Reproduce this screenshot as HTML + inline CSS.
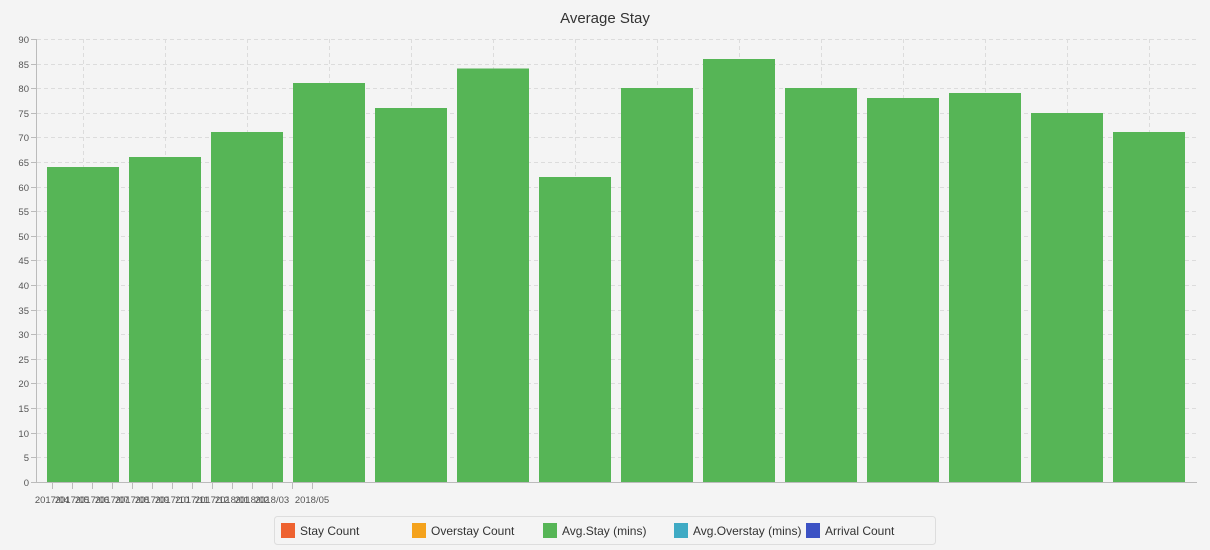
<!DOCTYPE html>
<html><head><meta charset="utf-8"><style>
html,body{margin:0;padding:0;background:#f4f4f4;}
svg{display:block;font-family:"Liberation Sans",sans-serif;}
</style></head><body>
<svg width="1210" height="550" xmlns="http://www.w3.org/2000/svg">
<rect width="1210" height="550" fill="#f4f4f4"/>
<text x="605" y="23" text-anchor="middle" font-size="15" fill="#333">Average Stay</text>
<g stroke="#dcdcdc" stroke-dasharray="4,3" stroke-width="1">
<line x1="37" x2="1197" y1="39.5" y2="39.5"/><line x1="37" x2="1197" y1="64.5" y2="64.5"/><line x1="37" x2="1197" y1="88.5" y2="88.5"/><line x1="37" x2="1197" y1="113.5" y2="113.5"/><line x1="37" x2="1197" y1="137.5" y2="137.5"/><line x1="37" x2="1197" y1="162.5" y2="162.5"/><line x1="37" x2="1197" y1="187.5" y2="187.5"/><line x1="37" x2="1197" y1="211.5" y2="211.5"/><line x1="37" x2="1197" y1="236.5" y2="236.5"/><line x1="37" x2="1197" y1="260.5" y2="260.5"/><line x1="37" x2="1197" y1="285.5" y2="285.5"/><line x1="37" x2="1197" y1="310.5" y2="310.5"/><line x1="37" x2="1197" y1="334.5" y2="334.5"/><line x1="37" x2="1197" y1="359.5" y2="359.5"/><line x1="37" x2="1197" y1="383.5" y2="383.5"/><line x1="37" x2="1197" y1="408.5" y2="408.5"/><line x1="37" x2="1197" y1="433.5" y2="433.5"/><line x1="37" x2="1197" y1="457.5" y2="457.5"/>
<line x1="83.5" x2="83.5" y1="39" y2="482"/><line x1="165.5" x2="165.5" y1="39" y2="482"/><line x1="247.5" x2="247.5" y1="39" y2="482"/><line x1="329.5" x2="329.5" y1="39" y2="482"/><line x1="411.5" x2="411.5" y1="39" y2="482"/><line x1="493.5" x2="493.5" y1="39" y2="482"/><line x1="575.5" x2="575.5" y1="39" y2="482"/><line x1="657.5" x2="657.5" y1="39" y2="482"/><line x1="739.5" x2="739.5" y1="39" y2="482"/><line x1="821.5" x2="821.5" y1="39" y2="482"/><line x1="903.5" x2="903.5" y1="39" y2="482"/><line x1="985.5" x2="985.5" y1="39" y2="482"/><line x1="1067.5" x2="1067.5" y1="39" y2="482"/><line x1="1149.5" x2="1149.5" y1="39" y2="482"/>
</g>
<g fill="#56b556">
<rect x="47" y="167" width="72" height="315"/>
<rect x="129" y="157" width="72" height="325"/>
<rect x="211" y="132" width="72" height="350"/>
<rect x="293" y="83" width="72" height="399"/>
<rect x="375" y="108" width="72" height="374"/>
<rect x="457" y="68.5" width="72" height="413.5"/>
<rect x="539" y="177" width="72" height="305"/>
<rect x="621" y="88" width="72" height="394"/>
<rect x="703" y="59" width="72" height="423"/>
<rect x="785" y="88" width="72" height="394"/>
<rect x="867" y="98" width="72" height="384"/>
<rect x="949" y="93" width="72" height="389"/>
<rect x="1031" y="113" width="72" height="369"/>
<rect x="1113" y="132" width="72" height="350"/>
</g>
<g stroke="#bbb" stroke-width="1">
<line x1="36.5" x2="36.5" y1="39" y2="482"/>
<line x1="36" x2="1197" y1="482.5" y2="482.5"/>
</g>
<g font-size="9.5" fill="#555" text-anchor="end">
<text x="29" y="43">90</text><text x="29" y="68">85</text><text x="29" y="92">80</text><text x="29" y="117">75</text><text x="29" y="141">70</text><text x="29" y="166">65</text><text x="29" y="191">60</text><text x="29" y="215">55</text><text x="29" y="240">50</text><text x="29" y="264">45</text><text x="29" y="289">40</text><text x="29" y="314">35</text><text x="29" y="338">30</text><text x="29" y="363">25</text><text x="29" y="387">20</text><text x="29" y="412">15</text><text x="29" y="437">10</text><text x="29" y="461">5</text><text x="29" y="486">0</text>
</g>
<g stroke="#bbb">
<line x1="31" x2="36" y1="39.5" y2="39.5"/><line x1="31" x2="36" y1="64.5" y2="64.5"/><line x1="31" x2="36" y1="88.5" y2="88.5"/><line x1="31" x2="36" y1="113.5" y2="113.5"/><line x1="31" x2="36" y1="137.5" y2="137.5"/><line x1="31" x2="36" y1="162.5" y2="162.5"/><line x1="31" x2="36" y1="187.5" y2="187.5"/><line x1="31" x2="36" y1="211.5" y2="211.5"/><line x1="31" x2="36" y1="236.5" y2="236.5"/><line x1="31" x2="36" y1="260.5" y2="260.5"/><line x1="31" x2="36" y1="285.5" y2="285.5"/><line x1="31" x2="36" y1="310.5" y2="310.5"/><line x1="31" x2="36" y1="334.5" y2="334.5"/><line x1="31" x2="36" y1="359.5" y2="359.5"/><line x1="31" x2="36" y1="383.5" y2="383.5"/><line x1="31" x2="36" y1="408.5" y2="408.5"/><line x1="31" x2="36" y1="433.5" y2="433.5"/><line x1="31" x2="36" y1="457.5" y2="457.5"/><line x1="31" x2="36" y1="482.5" y2="482.5"/>
<line x1="52.5" x2="52.5" y1="483" y2="489"/><line x1="72.5" x2="72.5" y1="483" y2="489"/><line x1="92.5" x2="92.5" y1="483" y2="489"/><line x1="112.5" x2="112.5" y1="483" y2="489"/><line x1="132.5" x2="132.5" y1="483" y2="489"/><line x1="152.5" x2="152.5" y1="483" y2="489"/><line x1="172.5" x2="172.5" y1="483" y2="489"/><line x1="192.5" x2="192.5" y1="483" y2="489"/><line x1="212.5" x2="212.5" y1="483" y2="489"/><line x1="232.5" x2="232.5" y1="483" y2="489"/><line x1="252.5" x2="252.5" y1="483" y2="489"/><line x1="272.5" x2="272.5" y1="483" y2="489"/><line x1="292.5" x2="292.5" y1="483" y2="489"/><line x1="312.5" x2="312.5" y1="483" y2="489"/>
</g>
<g font-size="9.5" fill="#555" text-anchor="middle">
<text x="52" y="503">2017/04</text><text x="92" y="503">2017/06</text><text x="132" y="503">2017/08</text><text x="172" y="503">2017/10</text><text x="212" y="503">2017/12</text><text x="252" y="503">2018/02</text>
<text x="72" y="503">2017/05</text><text x="112" y="503">2017/07</text><text x="152" y="503">2017/09</text><text x="192" y="503">2017/11</text><text x="232" y="503">2018/01</text><text x="272" y="503">2018/03</text>
<text x="312" y="503">2018/05</text>
</g>
<rect x="274.5" y="516.5" width="661" height="28" rx="3" fill="#f4f4f4" stroke="#ddd"/>
<g font-size="12" fill="#333">
<rect x="281" y="523" width="14" height="15" fill="#ee6230"/><text x="300" y="535">Stay Count</text>
<rect x="412" y="523" width="14" height="15" fill="#f4a21c"/><text x="431" y="535">Overstay Count</text>
<rect x="543" y="523" width="14" height="15" fill="#56b556"/><text x="562" y="535">Avg.Stay (mins)</text>
<rect x="674" y="523" width="14" height="15" fill="#3faac4"/><text x="693" y="535">Avg.Overstay (mins)</text>
<rect x="806" y="523" width="14" height="15" fill="#3c52c4"/><text x="825" y="535">Arrival Count</text>
</g>
</svg>
</body></html>
